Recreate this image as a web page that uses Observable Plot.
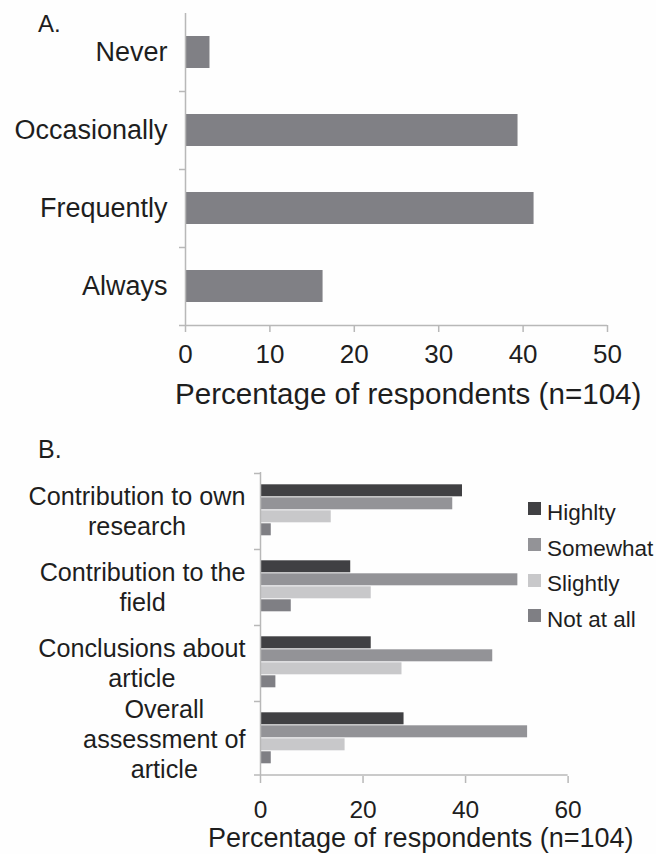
<!DOCTYPE html>
<html><head><meta charset="utf-8">
<script src="https://cdn.jsdelivr.net/npm/d3@7"></script>
<script src="https://cdn.jsdelivr.net/npm/@observablehq/plot@0.6"></script>
<style>
html,body{margin:0;padding:0;background:#fff;}
#wrap{position:relative;width:656px;height:854px;overflow:hidden;background:#fefefe;font-family:"Liberation Sans",Arial,sans-serif;color:#1e1e1e;}
.abs{position:absolute;white-space:nowrap;line-height:1;}
#chartA,#chartB{position:absolute;left:0;}
#chartA{top:0}
#chartB{top:410px}
#wrap svg{background:transparent!important;max-width:none!important;}
#legend{position:absolute;left:528px;top:495px;width:200px;}
#legend .lg-swatches{margin:0!important;min-height:0!important;}
#legend .lg-swatch{height:35.7px;padding:0!important;margin:0!important;display:flex;align-items:center;}
#legend .lg-swatch svg{margin-right:6px!important;margin-top:-8px;flex-shrink:0;}
#legend .lg-swatch-label{overflow:visible!important;text-overflow:clip!important;white-space:nowrap;}
</style></head>
<body><div id="wrap">
<div id="chartA"></div><div id="chartB"></div>
<div class="abs" id="labelA" style="left:38px;top:12px;font-size:24px"></div>
<div class="abs" id="titleA" style="left:175px;top:379px;font-size:29.6px"></div>
<div class="abs" id="labelB" style="left:38px;top:437px;font-size:25px"></div>
<div class="abs" id="titleB" style="left:208px;top:825px;font-size:27px"></div>
<div id="legend"></div>
</div>
<script>
// ---- data ----
const panelLabels = ["A.", "B."];
const axisTitle = "Percentage of respondents (n=104)";

const frequencyCats = ["Never", "Occasionally", "Frequently", "Always"];
const frequencyPct = [2.9, 39.4, 41.3, 16.3];
const ticksA = [0, 10, 20, 30, 40, 50];

const groups = ["Contribution to own research", "Contribution to the field", "Conclusions about article", "Overall assessment of article"];
const groupTickLabels = ["Contribution to own\nresearch", "Contribution to the\nfield", "Conclusions about\narticle", "Overall\nassessment of\narticle"];
const series = ["Highlty", "Somewhat", "Slightly", "Not at all"];
const highly = [39.4, 17.6, 21.6, 28.0];
const somewhat = [37.5, 50.2, 45.3, 52.1];
const slightly = [13.8, 21.6, 27.6, 16.5];
const notAtAll = [2.1, 6.0, 3.0, 2.1];
const ticksB = [0, 20, 40, 60];

// ---- styles ----
const FONT = '"Liberation Sans", Arial, sans-serif';
const TEXT = "#1e1e1e";
const AX = "#b8b8b8";
const BAR_A = "#808085";
const colorsB = ["#404043", "#939397", "#c8c8ca", "#7f7f84"];

document.getElementById("labelA").textContent = panelLabels[0];
document.getElementById("labelB").textContent = panelLabels[1];
document.getElementById("titleA").textContent = axisTitle;
document.getElementById("titleB").textContent = axisTitle;

// ---- Panel A ----
const dataA = frequencyCats.map((c, i) => ({cat: c, pct: frequencyPct[i]}));
const HA = 410, mtA = 13, mbA = 85;
const stepA = (HA - mtA - mbA) / frequencyCats.length;
const chartA = Plot.plot({
  width: 656, height: HA, marginTop: mtA, marginBottom: mbA, marginLeft: 185, marginRight: 49,
  style: {fontFamily: FONT, color: TEXT, background: "transparent", overflow: "visible"},
  x: {domain: [0, 50]},
  y: {domain: frequencyCats, paddingInner: 0.59, paddingOuter: 0.295, align: 0.5},
  marks: [
    Plot.barX(dataA, {y: "cat", x: "pct", fill: BAR_A}),
    Plot.ruleX([0], {stroke: AX, strokeWidth: 1.5}),
    Plot.ruleY(frequencyCats.slice(1), {y: d => d, x1: 0, x2: 0, insetLeft: -6, dy: -stepA / 2, stroke: AX, strokeWidth: 1.5}),
    Plot.ruleY(frequencyCats.slice(-1), {y: d => d, x1: 0, x2: 50, insetLeft: -6, dy: stepA / 2, stroke: AX, strokeWidth: 1.5}),
    Plot.axisX({ticks: ticksA, tickSize: 7, tickPadding: 12, fontSize: 26, label: null, stroke: AX, strokeWidth: 1.5}),
    Plot.axisY({tickSize: 0, tickPadding: 18, fontSize: 27, label: null})
  ]
});
document.getElementById("chartA").append(chartA);

// ---- Panel B ----
const valuesB = [highly, somewhat, slightly, notAtAll];
const dataB = groups.flatMap((g, i) => series.map((s, j) => ({group: g, s, v: valuesB[j][i]})));
const HB = 444, mtB = 60.7, mbB = 76;
const facetBand = (HB - mtB - mbB) / groups.length;
const pIn = 0.04, pOut = 0.75;
const stB = facetBand / (series.length - pIn + 2 * pOut);
const edgeOff = stB * pOut + stB * (1 - pIn) / 2;
const chartB = Plot.plot({
  width: 656, height: HB, marginTop: mtB, marginBottom: mbB, marginLeft: 260, marginRight: 88.4,
  style: {fontFamily: FONT, color: TEXT, background: "transparent", overflow: "visible"},
  x: {domain: [0, 60]},
  y: {domain: series, paddingInner: pIn, paddingOuter: pOut, align: 0.5, axis: null},
  fy: {domain: groups, padding: 0, axis: null},
  color: {domain: series, range: colorsB},
  marks: [
    Plot.barX(dataB, {fy: "group", y: "s", x: "v", fill: "s"}),
    Plot.ruleX([0], {stroke: AX, strokeWidth: 1.5}),
    Plot.ruleY(groups, {fy: d => d, y: () => series[0], x1: 0, x2: 0, insetLeft: -6, dy: -edgeOff, stroke: AX, strokeWidth: 1.5}),
    Plot.ruleY(groups.slice(-1), {fy: d => d, y: () => series[series.length - 1], x1: 0, x2: 60, insetLeft: -6, dy: edgeOff, stroke: AX, strokeWidth: 1.5}),
    Plot.axisX({ticks: ticksB, tickSize: 7, tickPadding: 17, fontSize: 24.5, label: null, stroke: AX, strokeWidth: 1.5}),
    Plot.axisFy({anchor: "left", tickSize: 0, tickPadding: 15, fontSize: 25.2, lineHeight: 1.2, label: null,
      tickFormat: d => groupTickLabels[groups.indexOf(d)]})
  ]
});
document.getElementById("chartB").append(chartB);

// center each multi-line group label within its own block, keeping its right edge at the axis padding
chartB.querySelectorAll('g[aria-label="fy-axis tick label"] text').forEach(t => {
  const b0 = t.getBBox();
  const end0 = b0.x + b0.width;
  t.setAttribute("text-anchor", "middle");
  const b1 = t.getBBox();
  const shift = end0 - (b1.x + b1.width);
  const tr = t.getAttribute("transform") || "";
  t.setAttribute("transform", (tr + ` translate(${shift},0)`).trim());
});

// ---- Legend ----
const legend = Plot.legend({
  color: {type: "ordinal", domain: series, range: colorsB},
  legend: "swatches", columns: 1, swatchSize: 13, className: "lg",
  style: {fontFamily: FONT, fontSize: "22.5px", color: TEXT}
});
document.getElementById("legend").append(legend);
</script>
</body></html>
